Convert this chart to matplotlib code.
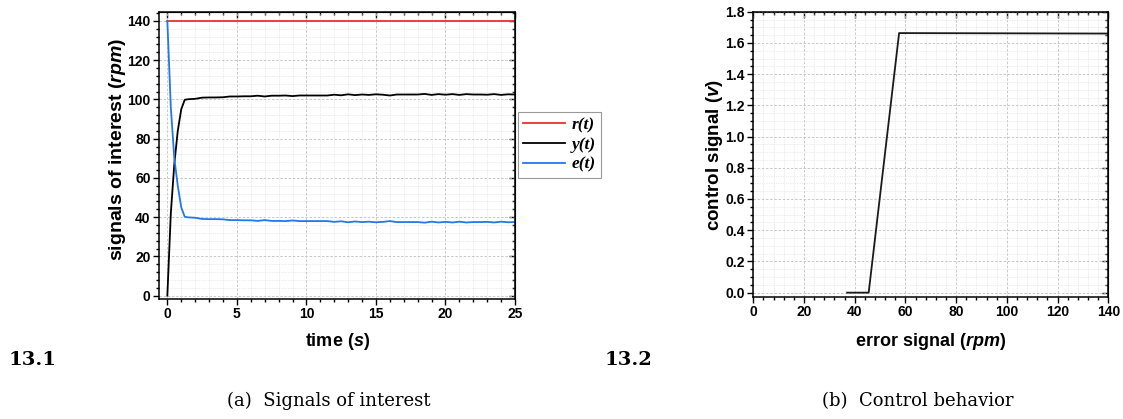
import matplotlib
matplotlib.use('Agg')
import matplotlib.pyplot as plt
from matplotlib.ticker import MultipleLocator

plt.rcParams['font.family'] = 'Liberation Sans'
plt.rcParams['mathtext.fontset'] = 'custom'
plt.rcParams['mathtext.it'] = 'Liberation Sans:italic:bold'
plt.rcParams['mathtext.rm'] = 'Liberation Sans:bold'

# (a) signals of interest
t = [0, 0.25, 0.5, 0.75, 1.0, 1.25, 1.5, 2.0, 2.5, 3.0, 3.5, 4.0, 4.5, 5.0, 5.5,
     6.0, 6.5, 7.0, 7.5, 8.0, 8.5, 9.0, 9.5, 10.0, 10.5, 11.0, 11.5, 12.0, 12.5,
     13.0, 13.5, 14.0, 14.5, 15.0, 15.5, 16.0, 16.5, 17.0, 17.5, 18.0, 18.5,
     19.0, 19.5, 20.0, 20.5, 21.0, 21.5, 22.0, 22.5, 23.0, 23.5, 24.0, 24.5, 25.0]
r_t = [140] * len(t)
y_t = [0, 42, 67, 84, 95, 99.8, 100.1, 100.3, 100.9, 101.0, 101.0, 101.1, 101.5,
       101.5, 101.6, 101.6, 101.9, 101.5, 101.9, 101.9, 102.0, 101.7, 102.0, 102.0,
       102.0, 102.0, 102.0, 102.4, 102.1, 102.6, 102.2, 102.5, 102.3, 102.6, 102.4,
       102.0, 102.5, 102.5, 102.5, 102.5, 102.8, 102.3, 102.7, 102.4, 102.7, 102.3,
       102.7, 102.5, 102.5, 102.4, 102.7, 102.3, 102.6, 102.5]
e_t = [140, 96, 70, 56, 45, 40.2, 39.9, 39.7, 39.1, 39.0, 39.0, 38.9, 38.5, 38.5,
       38.4, 38.4, 38.1, 38.5, 38.1, 38.1, 38.0, 38.3, 38.0, 38.0, 38.0, 38.0, 38.0,
       37.6, 37.9, 37.4, 37.8, 37.5, 37.7, 37.4, 37.6, 38.0, 37.5, 37.5, 37.5, 37.5,
       37.2, 37.7, 37.3, 37.6, 37.3, 37.7, 37.3, 37.5, 37.5, 37.6, 37.3, 37.7, 37.4,
       37.5]

# (b) control behaviour
err_sig = [37, 45.5, 57.5, 140]
ctrl_sig = [0, 0, 1.663, 1.66]

W, H = 1123, 419
fig = plt.figure(figsize=(W / 100, H / 100), dpi=100)


def px_axes(x0, y0, x1, y1):
    return fig.add_axes([x0 / W, 1 - y1 / H, (x1 - x0) / W, (y1 - y0) / H])


def style(ax, xmaj, xmin, ymaj, ymin):
    ax.xaxis.set_major_locator(MultipleLocator(xmaj))
    ax.xaxis.set_minor_locator(MultipleLocator(xmin))
    ax.yaxis.set_major_locator(MultipleLocator(ymaj))
    ax.yaxis.set_minor_locator(MultipleLocator(ymin))
    ax.grid(which='major', color='#c0c0c0', ls=(0, (3, 2)), lw=0.6)
    ax.grid(which='minor', color='#dadada', ls=(0, (1, 1.5)), lw=0.5)
    ax.set_axisbelow(True)
    ax.tick_params(which='both', direction='out', width=1.0)
    ax.tick_params(which='major', length=4, labelsize=10, pad=2)
    ax.tick_params(which='minor', length=2)
    for s in ax.spines.values():
        s.set_linewidth(1.1)
    # mirrored ticks pointing inwards on top and right
    top = ax.secondary_xaxis('top')
    top.xaxis.set_major_locator(MultipleLocator(xmaj))
    top.xaxis.set_minor_locator(MultipleLocator(xmin))
    top.tick_params(which='both', direction='in', labeltop=False, width=1.0)
    top.tick_params(which='major', length=4)
    top.tick_params(which='minor', length=2)
    right = ax.secondary_yaxis('right')
    right.yaxis.set_major_locator(MultipleLocator(ymaj))
    right.yaxis.set_minor_locator(MultipleLocator(ymin))
    right.tick_params(which='both', direction='in', labelright=False, width=1.0)
    right.tick_params(which='major', length=4)
    right.tick_params(which='minor', length=2)


ax1 = px_axes(159, 11.7, 515, 299)
ax1.plot(t, r_t, color='#e8322c', lw=1.3, label='r(t)')
ax1.plot(t, y_t, color='black', lw=1.3, label='y(t)')
ax1.plot(t, e_t, color='#2278e6', lw=1.3, label='e(t)')
ax1.set_xlim(-0.6, 25)
ax1.set_ylim(-1.7, 144.7)
style(ax1, 5, 1, 20, 4)
for lab in ax1.get_xticklabels() + ax1.get_yticklabels():
    lab.set_fontweight('bold')
leg = ax1.legend(loc='upper left', bbox_to_anchor=(518 / W, 1 - 112 / H),
                 bbox_transform=fig.transFigure, fancybox=False, framealpha=1,
                 edgecolor='#999999', handlelength=2.4, borderpad=0.3,
                 labelspacing=0.2, handletextpad=0.4, borderaxespad=0,
                 prop={'family': 'Liberation Serif', 'style': 'italic',
                       'weight': 'bold', 'size': 12.5})
leg.get_frame().set_linewidth(0.8)

ax2 = px_axes(753.3, 11.7, 1108.3, 296.7)
ax2.plot(err_sig, ctrl_sig, color='#1a1a1a', lw=1.3)
ax2.set_xlim(0, 140)
ax2.set_ylim(-0.026, 1.8)
style(ax2, 20, 4, 0.2, 0.05)
ax2.yaxis.set_major_formatter(matplotlib.ticker.FormatStrFormatter('%.1f'))
for lab in ax2.get_xticklabels() + ax2.get_yticklabels():
    lab.set_fontweight('bold')

# axis labels
fig.text(338 / W, 1 - 341 / H, r'time ($s$)', ha='center', va='center',
         fontsize=13, fontweight='bold')
fig.text(117 / W, 1 - 149 / H, r'signals of interest ($rpm$)', ha='center',
         va='center', rotation=90, fontsize=14, fontweight='bold')
fig.text(931 / W, 1 - 341 / H, r'error signal ($rpm$)', ha='center',
         va='center', fontsize=13, fontweight='bold')
fig.text(715 / W, 1 - 155 / H, r'control signal ($v$)', ha='center',
         va='center', rotation=90, fontsize=13.5, fontweight='bold')

# sub-figure numbers and captions
fig.text(33 / W, 1 - 365 / H, '13.1', ha='center', va='baseline',
         family='DejaVu Serif', fontweight='bold', fontsize=14)
fig.text(628 / W, 1 - 365 / H, '13.2', ha='center', va='baseline',
         family='DejaVu Serif', fontweight='bold', fontsize=14)
fig.text(329 / W, 1 - 406 / H, '(a)  Signals of interest', ha='center',
         va='baseline', family='DejaVu Serif', fontsize=13)
fig.text(918 / W, 1 - 406 / H, '(b)  Control behavior', ha='center',
         va='baseline', family='DejaVu Serif', fontsize=13)

fig.savefig('out.png', dpi=100)
